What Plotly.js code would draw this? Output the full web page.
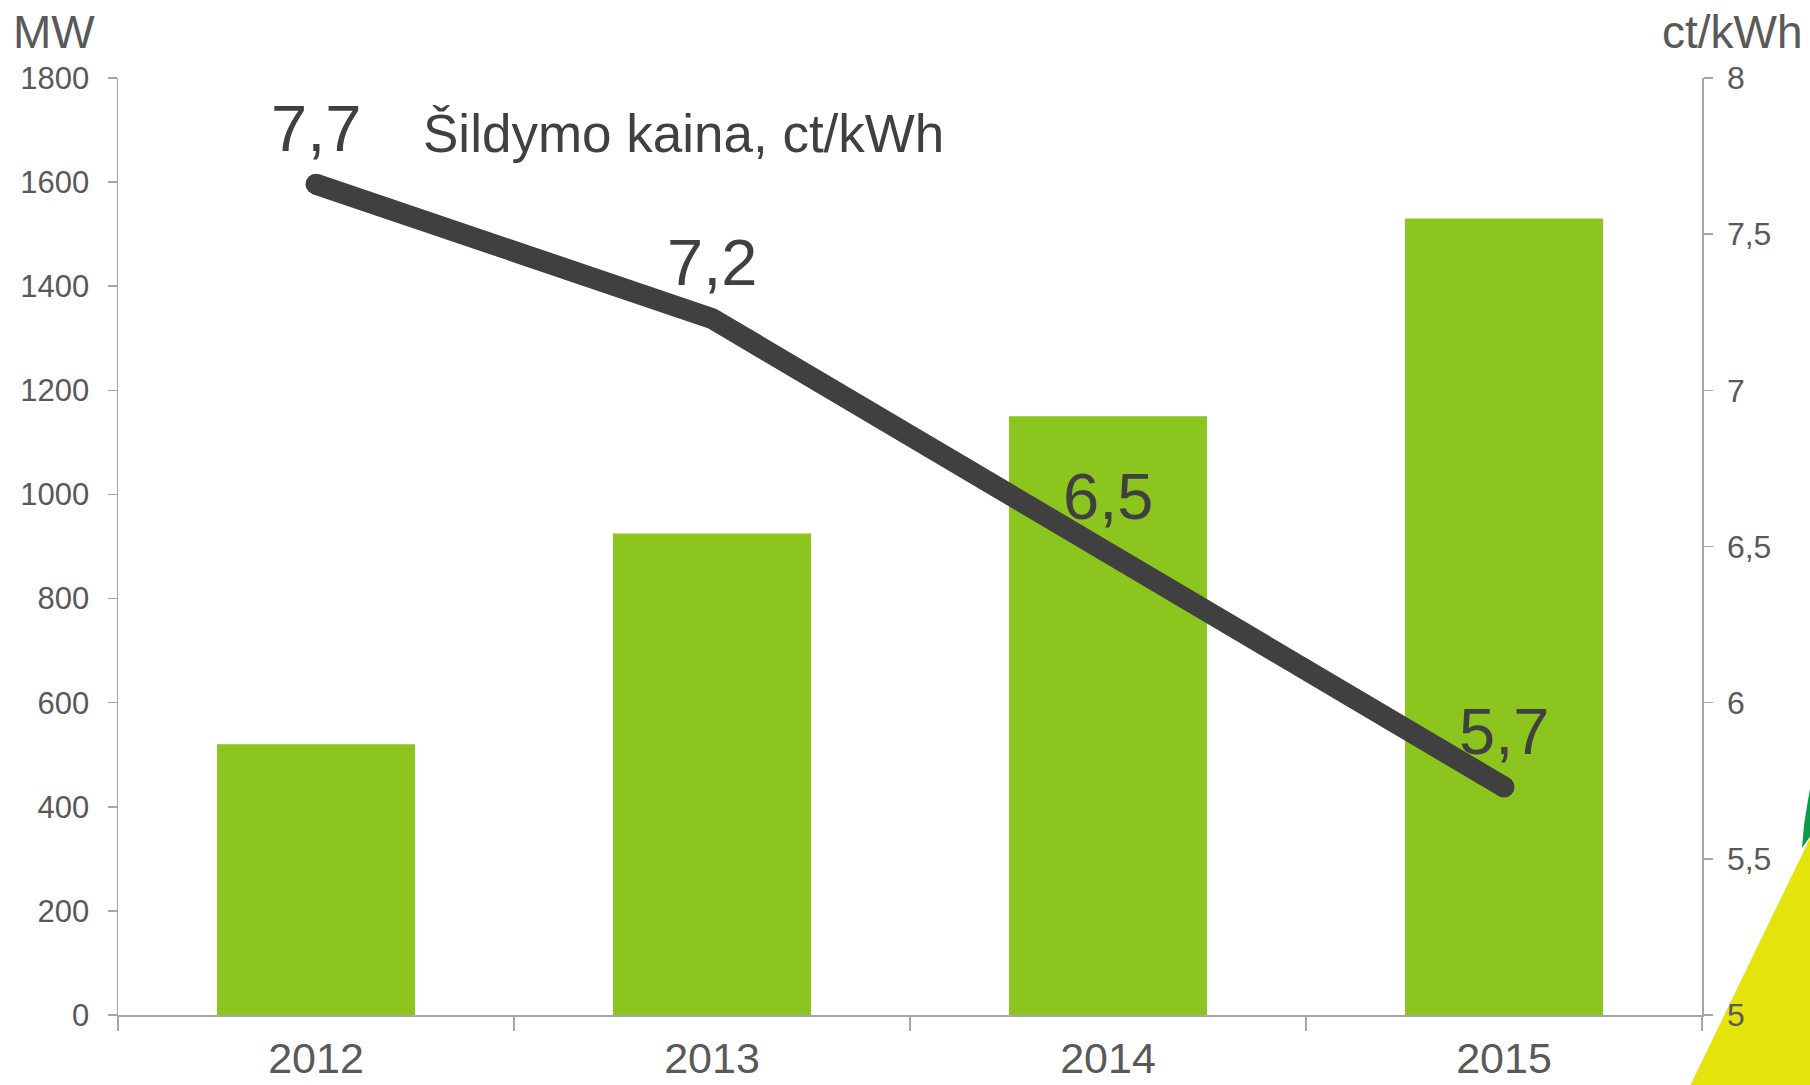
<!DOCTYPE html>
<html>
<head>
<meta charset="utf-8">
<script src="https://cdn.plot.ly/plotly-3.0.1.min.js"></script>
<style>
  html, body { margin: 0; padding: 0; background: #ffffff; }
  #chart { width: 1810px; height: 1085px; }
</style>
</head>
<body>
<div id="chart"></div>
<script>
// ---- data ----
const years = ['2012', '2013', '2014', '2015'];
const capacityMW = [520, 925, 1150, 1530];
const priceCt = [7.66, 7.23, 6.48, 5.73];
const priceLabels = ['7,7', '7,2', '6,5', '5,7'];
const leftAxisTitle = 'MW';
const rightAxisTitle = 'ct/kWh';
const lineTitle = 'Šildymo kaina, ct/kWh';

// ---- styles ----
const FONT = 'Liberation Sans, Arial, sans-serif';
const GREY_TXT = '#595959';
const DARK = '#404040';
const AXIS = '#A6A6A6';
const BAR = '#8CC51E';

const W = 1810, H = 1085;
const M = { l: 118, r: 108, t: 78, b: 70 };
const pw = W - M.l - M.r, ph = H - M.t - M.b;
const px = x => (x - M.l) / pw;
const py = y => (H - M.b - y) / ph;

const n = years.length;
const LW = 21;
const capSizes = years.map((_, i) => (i === 0 || i === n - 1) ? LW : 0);

const traces = [
  {
    type: 'bar', x: years, y: capacityMW, yaxis: 'y',
    marker: { color: BAR }, hoverinfo: 'skip', showlegend: false
  },
  {
    type: 'scatter', mode: 'lines+markers', x: years, y: priceCt, yaxis: 'y2',
    line: { color: DARK, width: LW },
    marker: { color: DARK, size: capSizes, opacity: 1, line: { width: 0 } },
    hoverinfo: 'skip', showlegend: false
  }
];

// value labels, positioned on the category index of each year
const annotations = priceLabels.map((t, i) => ({
  x: i, y: priceCt[i], xref: 'x', yref: 'y2',
  text: t, showarrow: false, yshift: 56,
  xanchor: 'center', yanchor: 'middle',
  font: { family: FONT, size: 65, color: DARK }
}));

annotations.push(
  { xref: 'paper', yref: 'paper', x: px(421), y: py(134), text: lineTitle,
    showarrow: false, xanchor: 'left', yanchor: 'middle',
    font: { family: FONT, size: 53, color: DARK } },
  { xref: 'paper', yref: 'paper', x: px(11), y: py(32), text: leftAxisTitle,
    showarrow: false, xanchor: 'left', yanchor: 'middle',
    font: { family: FONT, size: 46, color: GREY_TXT } },
  { xref: 'paper', yref: 'paper', x: px(1805), y: py(32), text: rightAxisTitle,
    showarrow: false, xanchor: 'right', yanchor: 'middle',
    font: { family: FONT, size: 46, color: GREY_TXT } }
);

// decorative corner shapes
function pathPaper(points) {
  return 'M ' + points.map(p => px(p[0]) + ',' + py(p[1])).join(' L ') + ' Z';
}
const shapes = [
  { type: 'path', xref: 'paper', yref: 'paper',
    path: pathPaper([[1688, 1090], [1812, 834], [1812, 1090]]),
    fillcolor: '#E4E30C', line: { width: 0 }, layer: 'below' },
  { type: 'path', xref: 'paper', yref: 'paper',
    path: pathPaper([[1812, 778], [1808, 800], [1804, 825], [1802, 848], [1812, 834]]),
    fillcolor: '#0A9A48', line: { width: 0 }, layer: 'below' }
];

const layout = {
  width: W, height: H,
  margin: M,
  paper_bgcolor: '#ffffff', plot_bgcolor: 'rgba(0,0,0,0)',
  separators: ', ',
  showlegend: false,
  bargap: 0.5,
  font: { family: FONT, color: GREY_TXT },
  xaxis: {
    type: 'category', range: [-0.5, years.length - 0.5],
    tickson: 'boundaries', ticks: 'outside', ticklen: 14,
    tickcolor: AXIS, tickwidth: 1.5, tickangle: 0,
    ticklabelstandoff: 5,
    showline: true, linecolor: AXIS, linewidth: 1.5,
    showgrid: false, zeroline: false,
    tickfont: { family: FONT, size: 43, color: GREY_TXT }
  },
  yaxis: {
    range: [0, 1800], dtick: 200, tick0: 0,
    ticks: 'outside', ticklen: 9, tickcolor: AXIS, tickwidth: 1.5,
    ticklabelstandoff: 12,
    showline: true, linecolor: AXIS, linewidth: 1.5,
    showgrid: false, zeroline: false,
    tickfont: { family: FONT, size: 31, color: GREY_TXT }
  },
  yaxis2: {
    overlaying: 'y', side: 'right',
    range: [5, 8], dtick: 0.5, tick0: 5,
    ticks: 'outside', ticklen: 9, tickcolor: AXIS, tickwidth: 1.5,
    ticklabelstandoff: 8,
    showline: true, linecolor: AXIS, linewidth: 1.5,
    showgrid: false, zeroline: false,
    tickfont: { family: FONT, size: 32, color: GREY_TXT }
  },
  annotations: annotations,
  shapes: shapes
};

Plotly.newPlot('chart', traces, layout, { staticPlot: true, displayModeBar: false });
</script>
</body>
</html>
